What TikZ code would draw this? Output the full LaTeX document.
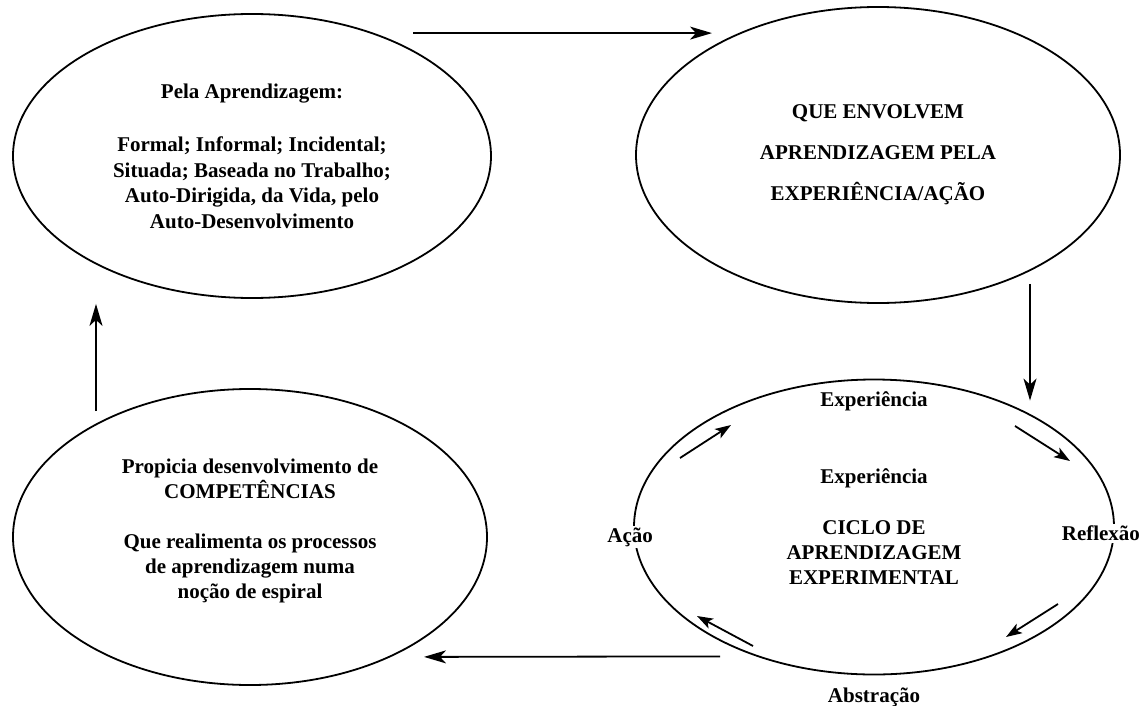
\documentclass[tikz,border=0pt]{standalone}
\usepackage{fontspec}
\setmainfont{Liberation Serif}
\usetikzlibrary{shapes.geometric, arrows.meta, positioning}
\tikzset{
    bubble/.style={ellipse, draw=black, line width=1.8pt, inner sep=0pt, align=center, font=\bfseries\fontsize{21}{25.5}\selectfont},
    arrow/.style={line width=1.8pt, -{Stealth[length=22pt, width=13pt, inset=6pt]}},
    cyclearrow/.style={line width=1.8pt, -{Stealth[length=16pt, width=11pt, inset=4pt]}},
    tag/.style={font=\bfseries\fontsize{21}{25}\selectfont, inner sep=2pt}
}

\begin{document}
\begin{tikzpicture}[x=1pt, y=-1pt]
        \useasboundingbox (0,0) rectangle (1142,706);

        % Nodes
        \node (learning) [bubble, minimum width=478pt, minimum height=284pt] at (252,156)
            {Pela Aprendizagem:\\[28pt]Formal; Informal; Incidental;\\Situada; Baseada no Trabalho;\\Auto-Dirigida, da Vida, pelo\\Auto-Desenvolvimento};

        \node (action) [bubble, minimum width=484pt, minimum height=296pt, font=\bfseries\fontsize{21}{41}\selectfont] at (878,155)
            {QUE ENVOLVEM\\APRENDIZAGEM PELA\\EXPERIÊNCIA/AÇÃO};

        \node (cycle) [bubble, minimum width=480pt, minimum height=295pt, font=\bfseries\fontsize{21}{25}\selectfont] at (874,527)
            {Experiência\\[26pt]CICLO DE\\APRENDIZAGEM\\EXPERIMENTAL};

        \node (skills) [bubble, minimum width=474pt, minimum height=296pt, font=\bfseries\fontsize{21}{25}\selectfont] at (250,537)
            {Propicia desenvolvimento de\\COMPETÊNCIAS\\[25pt]Que realimenta os processos\\de aprendizagem numa\\noção de espiral\\[-8pt]\mbox{}};

        % Cycle labels
        \node (exp) [tag] at ([yshift=-23pt]cycle.north) {Experiência};
        \node (acao) [tag, fill=white] at ([xshift=-3pt, yshift=-10pt]cycle.west) {Ação};
        \node (refl) [tag, fill=white] at ([xshift=-14pt, yshift=-6pt]cycle.east) {Reflexão};
        \node (abst) [tag] at ([yshift=-22pt]cycle.south) {Abstração};

        % Arrows
        \draw[arrow] ([xshift=161pt, yshift=-20pt]learning.north) -- ([xshift=-166pt, yshift=-27pt]action.north);
        \draw[arrow] ([xshift=152pt, yshift=20pt]action.south) -- ([xshift=156pt, yshift=-22pt]cycle.north);
        \draw[arrow] ([xshift=-154pt, yshift=19pt]cycle.south) -- ([xshift=174pt, yshift=29pt]skills.south);
        \draw[arrow] ([xshift=-154pt, yshift=-23pt]skills.north) -- ([xshift=-156pt, yshift=-5pt]learning.south);

        % Cycle arrows
        \draw[cyclearrow] ([shift={(-194,-69)}]cycle.center) -- ([shift={(-143,-102)}]cycle.center);
        \draw[cyclearrow] ([shift={(141,-101)}]cycle.center) -- ([shift={(196,-66)}]cycle.center);
        \draw[cyclearrow] ([shift={(184,77)}]cycle.center) -- ([shift={(132,110)}]cycle.center);
        \draw[cyclearrow] ([shift={(-121,119)}]cycle.center) -- ([shift={(-177,89)}]cycle.center);

\end{tikzpicture}
\end{document}
